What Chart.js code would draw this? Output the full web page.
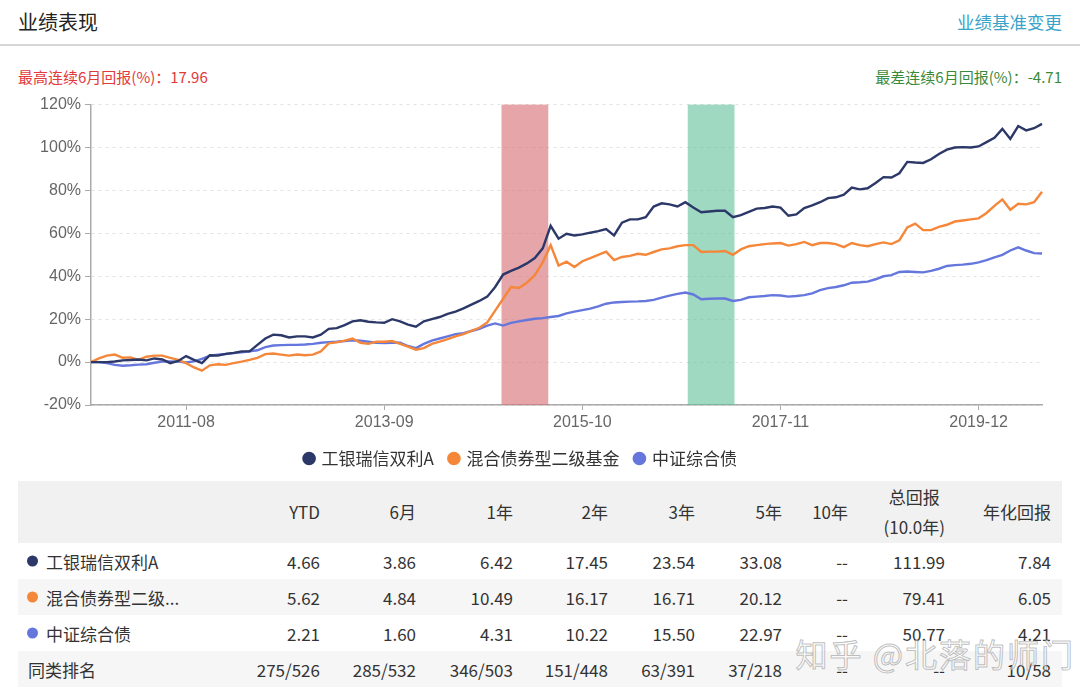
<!DOCTYPE html>
<html>
<head>
<meta charset="utf-8">
<script src="https://cdn.jsdelivr.net/npm/chart.js@4.4.1/dist/chart.umd.min.js"></script>
<style>
  body { margin: 0; width: 1080px; height: 695px; background: #fff; font-family: "Noto Sans CJK SC", "Noto Sans", sans-serif; color: #333; position: relative; overflow: hidden; }
  .abs { position: absolute; white-space: nowrap; }
  #title { left: 18px; top: 7px; font-size: 20px; color: #222; }
  #change { right: 18px; top: 9px; font-size: 17.5px; color: #3aa3c9; }
  #sep { left: 0; top: 44px; width: 1080px; height: 2px; background: #d6d6d6; }
  #best { left: 18px; top: 66px; font-size: 15px; color: #e2393b; }
  #worst { right: 18px; top: 66px; font-size: 15px; color: #3b8a3b; }
  #chartBox { position: absolute; left: 0; top: 91px; width: 1080px; height: 386px; }
  #table { position: absolute; left: 18px; top: 481px; width: 1044px; }
  .row { position: relative; width: 1044px; }
  .cell { position: absolute; white-space: nowrap; font-size: 17px; transform: translateY(-50%); }
  .dot { position: absolute; width: 11px; height: 11px; border-radius: 50%; transform: translateY(-50%); }
  #mark { right: 5px; top: 630px; font-size: 32px; color: rgba(255,255,255,0.55); -webkit-text-stroke: 1px rgba(150,150,150,0.6); letter-spacing: 2px; }
</style>
</head>
<body>
<div id="title" class="abs">业绩表现</div>
<div id="change" class="abs">业绩基准变更</div>
<div id="sep" class="abs"></div>
<div id="best" class="abs">最高连续6月回报(%)：17.96</div>
<div id="worst" class="abs">最差连续6月回报(%)：-4.71</div>
<div id="chartBox"><canvas id="perfChart"></canvas></div>
<div id="table"></div>
<div id="mark" class="abs">知乎 @北落的师门</div>

<script>
// monthly points, 2010-08 .. 2020-08
const startYear = 2010, startMonth = 8, monthCount = 121;
const months = [];
for (let i = 0; i < monthCount; i++) {
  const m = startMonth - 1 + i;
  months.push((startYear + Math.floor(m / 12)) + '-' + String(m % 12 + 1).padStart(2, '0'));
}
const tickLabels = ['2011-08', '2013-09', '2015-10', '2017-11', '2019-12'];

const seriesNames = ['工银瑞信双利A', '混合债券型二级基金', '中证综合债'];

// cumulative return (%)
const fundA = [
  0, 0, 0, 0.3, 0.8, 1.0, 1.2, 0.8, 1.7, 1.2,
  -0.5, 0.5, 2.8, 1.0, -0.5, 3.2, 3.0, 3.8, 4.3, 5.0,
  5.0, 8.0, 11.0, 12.8, 12.5, 11.5, 12.0, 12.0, 11.5, 12.8,
  15.5, 15.8, 17.2, 19.0, 19.5, 18.8, 18.5, 18.3, 20.0, 19.0,
  17.5, 16.5, 19.0, 20.0, 21.0, 22.5, 23.5, 25.0, 26.8, 28.5,
  30.5, 35.0, 40.8, 42.5, 44.0, 46.0, 48.5, 53.0, 63.5, 57.5,
  59.8, 59.0, 59.5, 60.3, 61.0, 62.0, 59.0, 65.0, 66.5, 66.5,
  67.5, 72.5, 74.0, 73.5, 72.5, 74.5, 72.0, 69.8, 70.2, 70.5,
  70.5, 67.5, 68.5, 70.0, 71.5, 71.8, 72.5, 72.0, 68.2, 68.8,
  71.8, 73.0, 74.5, 76.4, 76.8, 78.0, 81.3, 80.5, 81.0, 83.5,
  86.2, 86.0, 88.0, 93.3, 93.0, 92.8, 94.5, 97.0, 99.0, 100.0,
  100.2, 100.0, 100.5, 102.5, 104.5, 108.7, 104.0, 110.0, 108.0, 109.0,
  111.0
];
const bondMix = [
  0, 1.7, 3.0, 3.5, 2.0, 2.2, 1.0, 2.5, 3.0, 3.0,
  2.0, 1.0, -0.5, -2.5, -4.0, -1.5, -1.0, -1.3, -0.5, 0.2,
  1.0, 2.0, 3.7, 4.0, 3.5, 3.0, 3.5, 3.2, 3.5, 5.0,
  8.7, 9.2, 10.0, 11.0, 9.0, 8.5, 9.5, 9.5, 9.8, 8.5,
  7.2, 5.8, 6.5, 8.5, 9.5, 10.7, 12.0, 13.0, 14.5, 16.0,
  18.5, 24.0, 29.5, 35.0, 34.5, 37.0, 40.5, 46.5, 54.5, 45.0,
  46.8, 44.3, 47.0, 48.5, 50.0, 51.5, 47.5, 49.0, 49.5, 50.5,
  50.0, 51.3, 52.5, 53.0, 54.0, 54.5, 54.5, 51.3, 51.5, 51.5,
  51.8, 50.0, 52.5, 54.0, 54.5, 55.0, 55.3, 55.5, 54.3, 55.0,
  56.0, 54.5, 55.5, 55.5, 55.0, 53.6, 55.5, 54.5, 54.0, 55.0,
  55.8, 55.0, 56.8, 62.8, 64.5, 61.5, 61.5, 63.0, 64.0, 65.5,
  66.0, 66.5, 67.0, 69.5, 72.8, 75.8, 71.0, 73.8, 73.5, 74.5,
  79.4
];
const bondIndex = [
  0, 0, -0.5, -1.3, -1.7, -1.5, -1.2, -1.0, -0.3, 0.2,
  0.3, 0.2, -0.2, 0.3, 1.5, 3.0, 3.5, 3.8, 4.2, 4.5,
  5.0, 5.5, 7.0, 7.7, 7.9, 8.0, 8.0, 8.2, 8.5, 9.0,
  9.3, 9.5, 9.8, 10.2, 10.0, 9.5, 9.0, 8.9, 9.0, 9.0,
  7.5, 6.5, 8.5, 10.0, 11.0, 12.0, 13.0, 13.5, 14.5, 15.5,
  17.0, 18.0, 17.0, 18.3, 19.0, 19.6, 20.2, 20.5, 21.0, 21.5,
  22.7, 23.5, 24.2, 24.9, 26.0, 27.2, 27.8, 28.0, 28.2, 28.3,
  28.5, 29.0, 30.0, 31.0, 31.8, 32.4, 31.5, 29.3, 29.5, 29.6,
  29.6, 28.5, 29.0, 30.2, 30.5, 30.8, 31.2, 31.0, 30.5, 30.8,
  31.2, 32.0, 33.5, 34.5, 35.0, 35.8, 37.0, 37.2, 37.5, 38.6,
  40.0, 40.5, 42.0, 42.2, 42.0, 41.8, 42.5, 43.5, 44.8, 45.2,
  45.4, 45.8, 46.5, 47.5, 48.8, 50.0, 52.0, 53.5, 52.0, 50.8,
  50.6
];

// best / worst 6-month windows, in month index along the x axis
const bestPeriod = [51.8, 57.7];
const worstPeriod = [75.3, 81.2];

// table
const tableHead = ['YTD', '6月', '1年', '2年', '3年', '5年', '10年', '总回报|(10.0年)', '年化回报'];
const rowFundA = ['4.66', '3.86', '6.42', '17.45', '23.54', '33.08', '--', '111.99', '7.84'];
const rowBondMix = ['5.62', '4.84', '10.49', '16.17', '16.71', '20.12', '--', '79.41', '6.05'];
const rowBondIndex = ['2.21', '1.60', '4.31', '10.22', '15.50', '22.97', '--', '50.77', '4.21'];
const rowRank = ['275/526', '285/532', '346/503', '151/448', '63/391', '37/218', '--', '--', '10/58'];
const rowLabels = ['工银瑞信双利A', '混合债券型二级...', '中证综合债', '同类排名'];

const colors = ['#2c3868', '#f5873a', '#6577dc'];
const colRight = [302, 398, 495, 590, 677, 764, 830, 927, 1033];

function buildTable() {
  const t = document.getElementById('table');
  const head = document.createElement('div');
  head.className = 'row';
  head.style.height = '62px';
  head.style.background = '#f1f1f1';
  tableHead.forEach((h, i) => {
    const c = document.createElement('div');
    c.className = 'cell';
    c.style.right = (1044 - colRight[i]) + 'px';
    c.style.top = '31px';
    c.style.textAlign = 'center';
    c.style.lineHeight = '30px';
    c.innerHTML = h.split('|').join('<br>');
    head.appendChild(c);
  });
  t.appendChild(head);
  const rows = [rowFundA, rowBondMix, rowBondIndex, rowRank];
  const heights = [36, 36, 36, 36];
  rows.forEach((r, ri) => {
    const row = document.createElement('div');
    row.className = 'row';
    row.style.height = heights[ri] + 'px';
    row.style.background = ri % 2 === 1 ? '#f6f6f6' : '#fff';
    const mid = heights[ri] / 2;
    let labelLeft = 10;
    if (ri < 3) {
      const d = document.createElement('div');
      d.className = 'dot';
      d.style.left = '9px';
      d.style.top = mid + 'px';
      d.style.background = colors[ri];
      row.appendChild(d);
      labelLeft = 28;
    }
    const lab = document.createElement('div');
    lab.className = 'cell';
    lab.style.left = labelLeft + 'px';
    lab.style.top = mid + 'px';
    lab.textContent = rowLabels[ri];
    row.appendChild(lab);
    r.forEach((v, i) => {
      const c = document.createElement('div');
      c.className = 'cell';
      c.style.right = (1044 - colRight[i]) + 'px';
      c.style.top = mid + 'px';
      c.textContent = v;
      row.appendChild(c);
    });
    t.appendChild(row);
  });
}
buildTable();

const bandPlugin = {
  id: 'bands',
  beforeDatasetsDraw(chart) {
    const { ctx, chartArea, scales: { x } } = chart;
    [[bestPeriod, 'rgba(214,110,115,0.62)'], [worstPeriod, 'rgba(90,190,150,0.58)']].forEach(([p, col]) => {
      const x1 = x.getPixelForValue(p[0]);
      const x2 = x.getPixelForValue(p[1]);
      ctx.save();
      ctx.fillStyle = col;
      ctx.fillRect(x1, chartArea.top, x2 - x1, chartArea.bottom - chartArea.top);
      ctx.restore();
    });
  }
};

new Chart(document.getElementById('perfChart'), {
  type: 'line',
  data: {
    labels: months,
    datasets: [fundA, bondMix, bondIndex].map((d, i) => ({
      label: seriesNames[i],
      data: d,
      borderColor: colors[i],
      backgroundColor: colors[i],
      borderWidth: 2.4,
      pointRadius: 0,
      tension: 0,
      fill: false
    }))
  },
  options: {
    responsive: true,
    maintainAspectRatio: false,
    animation: false,
    layout: { padding: { top: 12, right: 38, left: 0, bottom: 0 } },
    plugins: {
      tooltip: { enabled: false },
      legend: {
        position: 'bottom',
        labels: {
          usePointStyle: true,
          pointStyle: 'circle',
          boxWidth: 8,
          boxHeight: 8,
          padding: 16,
          color: '#333',
          font: { family: '"Noto Sans CJK SC"', size: 17 }
        }
      }
    },
    scales: {
      x: {
        type: 'category',
        offset: false,
        grid: { display: true, drawOnChartArea: false, drawTicks: true, tickLength: 5, tickColor: '#aaa' },
        border: { color: '#aaa', width: 1.5 },
        ticks: { autoSkip: false, maxRotation: 0, color: '#666', padding: 3, font: { family: '"Liberation Sans"', size: 16 } },
        afterBuildTicks: s => { s.ticks = s.ticks.filter(t => tickLabels.includes(months[t.value])); },
        afterFit: s => { s.height = 29; }
      },
      y: {
        min: -20,
        max: 120,
        ticks: { stepSize: 20, color: '#666', padding: 4, font: { family: '"Liberation Sans"', size: 16 }, callback: v => v + '%' },
        grid: { color: '#e2e2e2', tickColor: '#aaa', tickLength: 6 },
        border: { color: '#aaa', width: 1.5, dash: [3, 4] },
        afterFit: s => { s.width = 91; }
      }
    }
  },
  plugins: [bandPlugin]
});
</script>
</body>
</html>
